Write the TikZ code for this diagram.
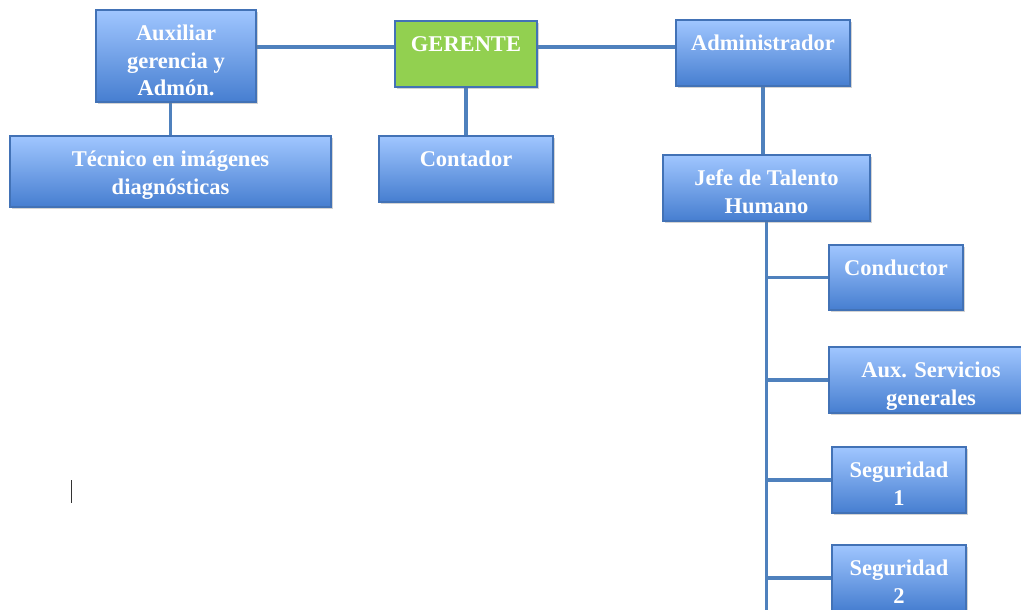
\documentclass[tikz,border=0pt]{standalone}
\usepackage{fontspec}
\setmainfont{Liberation Serif}
\usetikzlibrary{shadows,backgrounds}
\definecolor{boxtop}{RGB}{160,198,255}
\definecolor{boxmid}{RGB}{124,170,240}
\definecolor{boxbot}{RGB}{70,126,208}
\definecolor{boxline}{RGB}{66,114,182}
\definecolor{linkc}{RGB}{79,129,189}
\definecolor{gerfill}{RGB}{146,208,80}
\begin{document}
\begin{tikzpicture}
[x=0.025cm,y=-0.025cm
,bx/.style={draw=boxline,line width=1pt,top color=boxtop,middle color=boxmid,bottom color=boxbot,
  drop shadow={shadow xshift=1.6pt,shadow yshift=-1.6pt,opacity=0.35},inner sep=0pt}
,gbx/.style={draw=boxline,line width=1pt,fill=gerfill,
  drop shadow={shadow xshift=1.6pt,shadow yshift=-1.6pt,opacity=0.35},inner sep=0pt}
,lbl/.style={anchor=north,inner sep=0pt,align=center,text=white,
  font=\fontsize{16}{19.8}\selectfont\bfseries,yshift=-0.28cm}
,lk/.style={draw=linkc,line width=2.8pt}
]
\useasboundingbox (0,0) rectangle (1021,610);
\clip (0,0) rectangle (1021,610);

% boxes
\node[bx,minimum width=4cm,minimum height=2.3cm] (aux) at (176,56) {};
\node[gbx,minimum width=3.55cm,minimum height=1.65cm] (ger) at (466,54) {};
\node[bx,minimum width=4.35cm,minimum height=1.65cm] (adm) at (763,53) {};
\node[bx,minimum width=8.025cm,minimum height=1.775cm] (tec) at (170.5,171.5) {};
\node[bx,minimum width=4.35cm,minimum height=1.65cm] (con) at (466,169) {};
\node[bx,minimum width=5.175cm,minimum height=1.65cm] (jefe) at (766.5,188) {};
\node[bx,minimum width=3.35cm,minimum height=1.625cm] (cond) at (896,277.5) {};
\node[bx,minimum width=5.1cm,minimum height=1.65cm] (serv) at (931,380) {};
\node[bx,minimum width=3.35cm,minimum height=1.65cm] (seg1) at (899,480) {};
\node[bx,minimum width=3.35cm,minimum height=1.65cm] (seg2) at (899,578) {};

% links
\begin{scope}[on background layer]
\coordinate (trunk) at (767,615);
\draw[lk] ([yshift=0.17cm]ger.west) -- ([yshift=0.17cm]ger.west -| aux.east);
\draw[lk] ([yshift=0.17cm]ger.east) -- ([yshift=0.17cm]ger.east -| adm.west);
\draw[lk] (tec.north) -- (tec.north |- aux.south);
\draw[lk] (ger.south) -- (con.north);
\draw[lk] (adm.south) -- (adm.south |- jefe.north);
\draw[lk] (jefe.south) -- (jefe.south |- trunk);
\draw[lk] (cond.west) -- (cond.west -| jefe.south);
\draw[lk] (serv.west) -- (serv.west -| jefe.south);
\draw[lk] (seg1.west) -- (seg1.west -| jefe.south);
\draw[lk] (seg2.west) -- (seg2.west -| jefe.south);
\end{scope}

% labels
\node[lbl] (aux-t) at (aux.north) {\strut Auxiliar\\gerencia y\\Admón.};
\node[lbl] (ger-t) at (ger.north) {\strut GERENTE};
\node[lbl] (adm-t) at (adm.north) {\strut Administrador};
\node[lbl] (tec-t) at (tec.north) {\strut Técnico en imágenes\\diagnósticas};
\node[lbl] (con-t) at (con.north) {\strut Contador};
\node[lbl] (jefe-t) at (jefe.north) {\strut Jefe de Talento\\Humano};
\node[lbl] (cond-t) at (cond.north) {\strut Conductor};
\node[lbl] (serv-t) at (serv.north) {\strut Aux. Servicios\\generales};
\node[lbl] (seg1-t) at (seg1.north) {\strut Seguridad\\1};
\node[lbl] (seg2-t) at (seg2.north) {\strut Seguridad\\2};

% cursor
\draw[black!80,line width=0.7pt] (71,480) -- (71,503);
\end{tikzpicture}
\end{document}
